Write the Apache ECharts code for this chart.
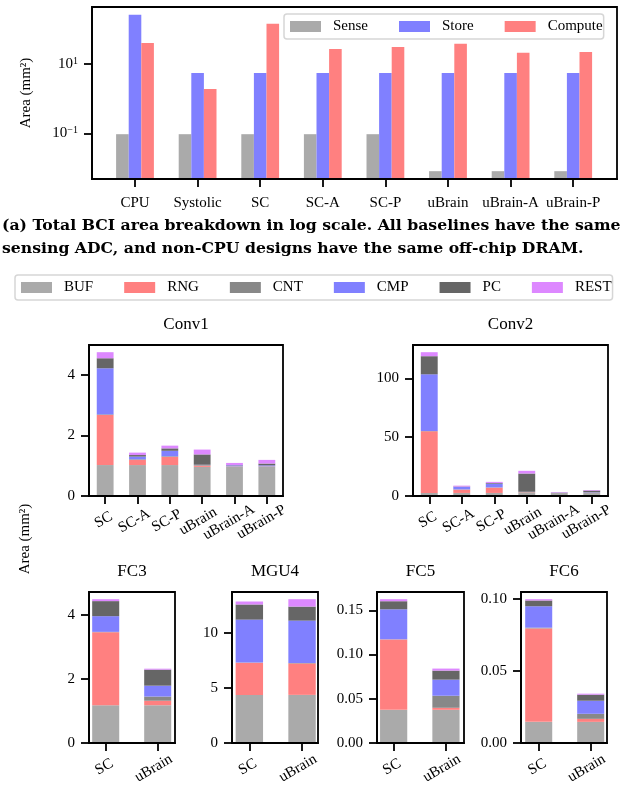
<!DOCTYPE html>
<html>
<head>
<meta charset="utf-8">
<script src="https://cdn.jsdelivr.net/npm/echarts@6/dist/echarts.min.js"></script>
<style>
html,body{margin:0;padding:0;background:#fff;}
#main{width:628px;height:789px;}
</style>
</head>
<body>
<div id="main"></div>
<script>
/* 上图: 总面积 (log) */
var topCats = ['CPU', 'Systolic', 'SC', 'SC-A', 'SC-P', 'uBrain', 'uBrain-A', 'uBrain-P'];
var topNames = ['Sense', 'Store', 'Compute'];
var senseArea = [0.095, 0.095, 0.095, 0.095, 0.095, 0.0081, 0.0081, 0.0081];
var storeArea = [268, 5.6, 5.6, 5.6, 5.6, 5.6, 5.6, 5.6];
var computeArea = [41.4, 1.92, 147, 27.7, 31.7, 38.8, 21.3, 22.7];
var topTicks = [0.1, 10];

/* 下图: 各层面积分解 */
var parts = ['BUF', 'RNG', 'CNT', 'CMP', 'PC', 'REST'];
var convCats = ['SC', 'SC-A', 'SC-P', 'uBrain', 'uBrain-A', 'uBrain-P'];
var fcCats = ['SC', 'uBrain'];
// 每行一个部件 (BUF, RNG, CNT, CMP, PC, REST)
var conv1Rows = [
    [1.02, 1.02, 1.02, 0.96, 0.96, 0.96],
    [1.65, 0.17, 0.27, 0.04, 0.01, 0.01],
    [0.02, 0.02, 0.02, 0.02, 0.01, 0.01],
    [1.52, 0.09, 0.18, 0.01, 0.03, 0.03],
    [0.33, 0.05, 0.08, 0.34, 0.01, 0.06],
    [0.20, 0.08, 0.09, 0.16, 0.07, 0.12]
];
var conv2Rows = [
    [2.6, 2.6, 2.6, 2.8, 2.6, 2.6],
    [52.4, 2.8, 4.5, 0.3, 0.1, 0.1],
    [0.3, 0.2, 0.2, 0.3, 0.1, 0.2],
    [48.1, 2.1, 3.2, 0.2, 0.2, 0.3],
    [15.4, 0.3, 0.6, 15.5, 0.1, 1.4],
    [3.4, 0.8, 0.9, 2.3, 0.3, 0.5]
];
var fc3Rows = [[1.18, 1.18], [2.28, 0.14], [0.01, 0.13], [0.49, 0.34], [0.47, 0.50], [0.06, 0.03]];
var mgu4Rows = [[4.36, 4.36], [2.91, 2.85], [0.02, 0.04], [3.89, 3.84], [1.37, 1.27], [0.27, 0.67]];
var fc5Rows = [[0.0375, 0.0375], [0.0795, 0.0023], [0.0002, 0.0136], [0.0339, 0.0182], [0.0091, 0.0102], [0.0023, 0.0023]];
var fc6Rows = [[0.0147, 0.0147], [0.065, 0.0021], [0.0005, 0.0035], [0.0149, 0.0091], [0.004, 0.0042], [0.0009, 0.0007]];
var conv1Ticks = [0, 2, 4];
var conv2Ticks = [0, 50, 100];
var fc3Ticks = [0, 2, 4];
var mgu4Ticks = [0, 5, 10];
var fc5Ticks = [0, 0.05, 0.10, 0.15];
var fc6Ticks = [0, 0.05, 0.10];

/* 样式 */
var FONT = 'Liberation Serif';
var topColors = ['#aaaaaa', '#8080ff', '#ff8080'];
var partColors = ['#aaaaaa', '#ff8080', '#888888', '#8080ff', '#666666', '#dd88ff'];

var grids = [], xAxes = [], yAxes = [], series = [], graphics = [];
var measure = document.createElement('canvas').getContext('2d');
measure.font = '15px "Liberation Serif"';

/* 旋转标签: 让旋转后的外框顶边对齐 (类似 matplotlib ha=center) */
function rotLabels(cats) {
    var a = Math.PI / 6;
    return cats.map(function (c) {
        var w = measure.measureText(c).width;
        var H = w * Math.sin(a) + 15 * Math.cos(a);
        var s = Math.max(0, (H - 15) / 2);
        return {value: c, textStyle: {align: 'center', verticalAlign: 'middle',
            fontFamily: FONT, fontSize: 15, color: '#000',
            padding: [2 * s * Math.cos(a), 2 * s * Math.sin(a), 0, 0]}};
    });
}

function stackMax(rows) {
    var m = 0;
    for (var j = 0; j < rows[0].length; j++) {
        var t = 0;
        for (var i = 0; i < rows.length; i++) t += rows[i][j];
        m = Math.max(m, t);
    }
    return m * 1.05;
}

var tickStyle = {color: '#000', width: 1.8};
var lineStyle = {color: '#000', width: 1.8};

/* 一个子图 = 外框 grid + 放柱子的 grid */
function addPanel(p) {
    var gi = grids.length;
    grids.push({left: p.left, top: p.top, width: p.width, height: p.height, show: true,
        borderColor: '#000', borderWidth: 1.8, backgroundColor: 'transparent',
        containLabel: false, outerBoundsMode: 'none'});
    grids.push({left: p.innerLeft, top: p.top, width: p.innerWidth, height: p.height,
        containLabel: false, outerBoundsMode: 'none'});
    xAxes.push({gridIndex: gi, type: 'value', min: 0, max: 1, z: 5,
        axisLine: {show: true, onZero: false, lineStyle: lineStyle},
        axisTick: {show: false}, axisLabel: {show: false}, splitLine: {show: false}});
    yAxes.push({gridIndex: gi, type: p.log ? 'log' : 'value', min: p.min, max: p.max, z: 5,
        axisLine: {show: true, onZero: false, lineStyle: lineStyle},
        splitLine: {show: false}, minorTick: {show: false},
        axisTick: {show: true, length: 8, lineStyle: tickStyle, customValues: p.ticks},
        axisLabel: {customValues: p.ticks, margin: 14, fontFamily: FONT, fontSize: 15, color: '#000',
            formatter: p.fmt, rich: p.rich}});
    xAxes.push({gridIndex: gi + 1, type: 'category', data: p.rotate ? rotLabels(p.cats) : p.cats,
        axisLine: {show: false},
        axisTick: {show: true, alignWithLabel: true, interval: 0, length: 8, lineStyle: tickStyle},
        axisLabel: p.rotate ? {interval: 0, rotate: 30, align: 'center', verticalAlign: 'middle', margin: 23,
            fontFamily: FONT, fontSize: 15, color: '#000'} :
            {interval: 0, margin: 17, fontFamily: FONT, fontSize: 15, color: '#000'}});
    yAxes.push({gridIndex: gi + 1, type: p.log ? 'log' : 'value', min: p.min, max: p.max, show: false,
        startValue: p.min});
    return {xAxisIndex: xAxes.length - 1, yAxisIndex: yAxes.length - 1};
}

/* 上图 */
var allTop = senseArea.concat(storeArea, computeArea);
var lo = Math.log10(Math.min.apply(null, allTop)), hi = Math.log10(Math.max.apply(null, allTop));
var pad = (hi - lo) * 0.05;
var topIdx = addPanel({left: 92, top: 7, width: 525, height: 172, innerLeft: 103.7, innerWidth: 500.8,
    log: true, min: Math.pow(10, lo - pad), max: Math.pow(10, hi + pad), ticks: topTicks, cats: topCats,
    fmt: function (v) {
        var e = Math.round(Math.log10(v));
        return '{b|10}{s|' + (e < 0 ? '\u2212' : '') + Math.abs(e) + '}';
    },
    rich: {b: {fontFamily: FONT, fontSize: 15, color: '#000'},
        s: {fontFamily: FONT, fontSize: 10, color: '#000', verticalAlign: 'top', padding: [0, 0, 6, 0]}}});
[senseArea, storeArea, computeArea].forEach(function (d, k) {
    series.push({type: 'bar', name: topNames[k], xAxisIndex: topIdx.xAxisIndex, yAxisIndex: topIdx.yAxisIndex,
        data: d, barWidth: 12.6, barGap: '0%', itemStyle: {color: topColors[k]}});
});

/* 下图 */
var panels = [
    {rows: conv1Rows, cats: convCats, ticks: conv1Ticks, dec: 0, left: 89, top: 345, width: 194, innerLeft: 89, innerWidth: 194},
    {rows: conv2Rows, cats: convCats, ticks: conv2Ticks, dec: 0, left: 413, top: 345, width: 195, innerLeft: 413, innerWidth: 195},
    {rows: fc3Rows, cats: fcCats, ticks: fc3Ticks, dec: 0, left: 89, top: 592, width: 86, innerLeft: 79.7, innerWidth: 104},
    {rows: mgu4Rows, cats: fcCats, ticks: mgu4Ticks, dec: 0, left: 232, top: 592, width: 86, innerLeft: 223, innerWidth: 105.4},
    {rows: fc5Rows, cats: fcCats, ticks: fc5Ticks, dec: 2, left: 377, top: 592, width: 87, innerLeft: 367.5, innerWidth: 104.6},
    {rows: fc6Rows, cats: fcCats, ticks: fc6Ticks, dec: 2, left: 521, top: 592, width: 86, innerLeft: 512.7, innerWidth: 104}
];
var titles = ['Conv1', 'Conv2', 'FC3', 'MGU4', 'FC5', 'FC6'];
panels.forEach(function (p, n) {
    var dec = p.dec;
    var idx = addPanel({left: p.left, top: p.top, width: p.width, height: 151,
        innerLeft: p.innerLeft, innerWidth: p.innerWidth, min: 0, max: stackMax(p.rows),
        ticks: p.ticks, cats: p.cats, rotate: true,
        fmt: function (v) { return dec ? v.toFixed(dec) : String(v); }});
    p.rows.forEach(function (row, k) {
        series.push({type: 'bar', name: parts[k], stack: 'p' + n, xAxisIndex: idx.xAxisIndex,
            yAxisIndex: idx.yAxisIndex, data: row, barWidth: '52%', itemStyle: {color: partColors[k]}});
    });
    graphics.push({type: 'text', x: p.left + p.width / 2, y: p.top - 20,
        style: {text: titles[n], font: '17px "Liberation Serif"', fill: '#000',
            align: 'center', textAlign: 'center', verticalAlign: 'middle', textVerticalAlign: 'middle'}});
});

/* 文字 */
function txt(t, x, y, font, rot, align) {
    graphics.push({type: 'text', x: x, y: y, rotation: rot || 0,
        style: {text: t, font: font, fill: '#000', align: align || 'center', textAlign: align || 'center',
            verticalAlign: 'middle', textVerticalAlign: 'middle'}});
}
txt('Area (mm\u00b2)', 26, 93, '15px "Liberation Serif"', Math.PI / 2);
txt('Area (mm\u00b2)', 25, 539, '15px "Liberation Serif"', Math.PI / 2);
txt('(a) Total BCI area breakdown in log scale. All baselines have the same', 2, 226, 'bold 15.7px "DejaVu Serif"', 0, 'left');
txt('sensing ADC, and non-CPU designs have the same off-chip DRAM.', 2, 248.5, 'bold 15.7px "DejaVu Serif"', 0, 'left');

var legendBase = {orient: 'horizontal', padding: [5, 1, 5, 6], itemWidth: 31, itemHeight: 11, itemGap: 31,
    icon: 'rect', backgroundColor: '#fff', borderColor: '#d6d6d6', borderWidth: 1.5, borderRadius: 3,
    selectedMode: false, textStyle: {fontFamily: FONT, fontSize: 15, color: '#000', padding: [0, 0, 0, 7]}};
var legends = [
    Object.assign({}, legendBase, {data: topNames, left: 284, top: 14}),
    Object.assign({}, legendBase, {data: parts, left: 15, top: 275})
];

var chart = echarts.init(document.getElementById('main'));
chart.setOption({
    animation: false,
    grid: grids,
    xAxis: xAxes,
    yAxis: yAxes,
    legend: legends,
    series: series,
    graphic: graphics
});
</script>
</body>
</html>
